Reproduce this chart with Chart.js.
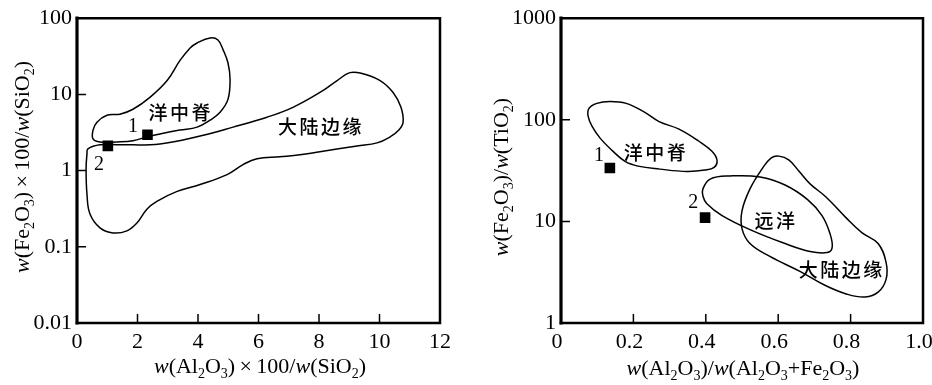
<!DOCTYPE html>
<html><head><meta charset="utf-8">
<script src="https://cdn.jsdelivr.net/npm/chart.js@4.4.0/dist/chart.umd.min.js"></script>
<style>
html,body{margin:0;padding:0;background:#fff;overflow:hidden;width:932px;height:385px;}
#w1{position:absolute;left:0;top:0;width:466px;height:385px;}
#w2{position:absolute;left:466px;top:0;width:480px;height:385px;}
canvas{display:block;}
</style></head><body>
<div id="w1"><canvas id="c1" width="466" height="385"></canvas></div>
<div id="w2"><canvas id="c2" width="480" height="385"></canvas></div>
<script>
// ---------- Left chart data ----------
const leftXTicks = [0, 2, 4, 6, 8, 10, 12];
const leftXTickLabels = ['0', '2', '4', '6', '8', '10', '12'];
const leftYTicks = [0.01, 0.1, 1, 10, 100];
const leftYTickLabels = ['0.01', '0.1', '1', '10', '100'];
const leftRidge = [[3.97,47.3],[4.40,55],[4.66,51.7],[4.83,38.4],[4.99,26],[5.06,15.7],[4.99,8.6],[4.73,5.83],[4.40,4.59],[3.97,3.72],[3.40,3.40],[2.74,3.02],[2.31,2.77],[1.85,2.46],[1.32,2.38],[0.76,2.38],[0.53,2.61],[0.53,3.40],[0.66,4.32],[0.99,5.33],[1.42,5.50],[1.85,6.38],[2.41,9.14],[2.98,15.2],[3.40,27.7],[3.74,40.7]];
const leftMargin = [[0.36,1.93],[0.76,2.18],[1.42,2.18],[2.74,2.24],[4.07,2.85],[5.16,3.72],[6.28,5.02],[7.14,6.77],[8.03,10.6],[8.60,15.2],[9.02,19.3],[9.42,18.8],[10.02,15.2],[10.45,10.6],[10.71,6.77],[10.78,4.32],[10.64,3.40],[10.35,2.77],[9.92,2.31],[9.26,2.11],[8.03,1.77],[7.37,1.61],[6.71,1.52],[5.95,1.43],[5.49,1.20],[4.96,0.887],[4.07,0.658],[3.31,0.533],[2.64,0.395],[2.31,0.312],[1.98,0.205],[1.65,0.162],[1.19,0.152],[0.76,0.177],[0.43,0.269],[0.33,0.488],[0.30,1.06],[0.33,1.66]];
const leftSamples = [[2.33,2.95],[1.02,2.11]];
const leftSampleNames = ['1', '2'];
const leftRegionNames = ['洋中脊', '大陆边缘'];

// ---------- Right chart data ----------
const rightXTicks = [0, 0.2, 0.4, 0.6, 0.8, 1.0];
const rightXTickLabels = ['0', '0.2', '0.4', '0.6', '0.8', '1.0'];
const rightYTicks = [1, 10, 100, 1000];
const rightYTickLabels = ['1', '10', '100', '1000'];
const rightRidge = [[0.075,108],[0.077,129],[0.099,145],[0.135,151],[0.180,145],[0.227,121],[0.271,96],[0.326,81],[0.381,61.5],[0.417,49],[0.431,40],[0.423,34],[0.398,32],[0.348,31],[0.273,32.7],[0.213,35],[0.177,39],[0.141,50],[0.108,66],[0.086,86]];
const rightPelagic = [[0.392,20.9],[0.412,26.1],[0.467,28],[0.550,27.4],[0.619,22.8],[0.682,16.3],[0.721,11.4],[0.743,7.6],[0.749,5.53],[0.735,4.94],[0.688,5.06],[0.619,6.05],[0.522,8.3],[0.445,11.4],[0.403,14.9],[0.392,17.8]];
const rightMargin = [[0.602,43.9],[0.630,40.1],[0.657,31.3],[0.688,23.4],[0.732,17.4],[0.787,10.9],[0.831,7.76],[0.876,6.05],[0.898,3.95],[0.898,2.69],[0.876,2.01],[0.840,1.80],[0.790,1.92],[0.729,2.35],[0.660,3.22],[0.577,4.52],[0.522,6.05],[0.500,8.48],[0.500,12.7],[0.522,20.9],[0.555,32.7],[0.580,42]];
const rightSamples = [[0.135,33.5],[0.398,10.9]];
const rightSampleNames = ['1', '2'];
const rightRegionNames = ['洋中脊', '远洋', '大陆边缘'];

// ---------- helpers ----------
const SERIF = '"Liberation Serif", "Times New Roman", serif';
const CJK = '"Noto Sans CJK SC", sans-serif';
const toPts = arr => arr.map(p => ({x: p[0], y: p[1]}));

function parseRich(s) {
  const parts = []; let italic = false, sub = false, buf = '';
  const push = () => { if (buf) { parts.push({t: buf, italic, sub}); buf = ''; } };
  for (const ch of s) {
    if (ch === '_') { push(); italic = !italic; }
    else if (ch === '~') { push(); sub = !sub; }
    else if (ch === '×') { push(); parts.push({t: '×', italic: false, sub: false, pad: 0.2}); }
    else buf += ch;
  }
  push();
  return parts;
}
function drawRich(ctx, s, cx, cy, rot, size) {
  const parts = parseRich(s);
  ctx.save();
  ctx.translate(cx, cy); ctx.rotate(rot);
  const fontFor = p => (p.italic ? 'italic ' : '') + (p.sub ? Math.round(size * 0.62) : size) + 'px ' + SERIF;
  const widths = []; let total = 0;
  for (const p of parts) {
    ctx.font = fontFor(p);
    const w = ctx.measureText(p.t).width + (p.pad ? 2 * p.pad * size : 0);
    widths.push(w); total += w;
  }
  let x = -total / 2; const base = size * 0.33;
  ctx.fillStyle = '#000'; ctx.textAlign = 'left'; ctx.textBaseline = 'alphabetic';
  parts.forEach((p, i) => {
    ctx.font = fontFor(p);
    ctx.fillText(p.t, x + (p.pad ? p.pad * size : 0), base + (p.sub ? size * 0.22 : 0));
    x += widths[i];
  });
  ctx.restore();
}

const loopPlugin = {
  id: 'loop',
  afterDatasetsUpdate(chart) {
    chart.data.datasets.forEach((ds, i) => {
      if (ds.closed) {
        const meta = chart.getDatasetMeta(i);
        if (meta.dataset) { meta.dataset._loop = true; meta.dataset._fullLoop = true; meta.dataset._pointsUpdated = false; }
      }
    });
  }
};

const decorPlugin = {
  id: 'decor',
  afterDraw(chart) {
    const c = chart.options.plugins.decor;
    const ctx = chart.ctx;
    const {left, right, top, bottom} = chart.chartArea;
    const xs = chart.scales.x, ys = chart.scales.y;
    ctx.save();
    ctx.strokeStyle = '#000';
    // inward ticks
    ctx.lineWidth = 1.5;
    ctx.beginPath();
    c.xInner.forEach(v => { const px = xs.getPixelForValue(v); ctx.moveTo(px, bottom); ctx.lineTo(px, bottom - 9); });
    c.yInner.forEach(v => { const py = ys.getPixelForValue(v); ctx.moveTo(left, py); ctx.lineTo(left + 9, py); });
    ctx.stroke();
    // frame
    ctx.lineCap = 'square';
    ctx.lineWidth = 2.5;
    ctx.beginPath();
    ctx.moveTo(left, top); ctx.lineTo(right, top); ctx.lineTo(right, bottom); ctx.lineTo(left, bottom);
    ctx.stroke();
    ctx.lineWidth = 3.2;
    ctx.beginPath(); ctx.moveTo(left, top); ctx.lineTo(left, bottom); ctx.stroke();
    // region labels
    ctx.fillStyle = '#000';
    ctx.textAlign = 'center'; ctx.textBaseline = 'middle';
    ctx.font = '500 19px ' + CJK;
    try { ctx.letterSpacing = '2.5px'; } catch (e) {}
    c.regions.forEach(r => {
      ctx.fillText(r.text, xs.getPixelForValue(r.x) + 1, ys.getPixelForValue(r.y));
    });
    try { ctx.letterSpacing = '0px'; } catch (e) {}
    ctx.font = '20px ' + SERIF;
    c.samples.forEach(r => {
      ctx.fillText(r.text, xs.getPixelForValue(r.x), ys.getPixelForValue(r.y));
    });
    ctx.restore();
    // axis titles
    drawRich(ctx, c.xTitle, c.xTitlePos[0], c.xTitlePos[1], 0, 22);
    drawRich(ctx, c.yTitle, c.yTitlePos[0], c.yTitlePos[1], -Math.PI / 2, 22);
  }
};

function curve(pts) {
  return {data: toPts(pts), closed: true, borderColor: '#000', borderWidth: 1.5, pointRadius: 0, tension: 0.4, fill: false, showLine: true};
}
function markers(pts) {
  return {data: toPts(pts), showLine: false, pointStyle: 'rect', pointRadius: 7.5, backgroundColor: '#000', borderWidth: 0};
}

function makeChart(id, o) {
  const tickFont = {family: SERIF, size: 22};
  return new Chart(document.getElementById(id), {
    type: 'line',
    data: {datasets: o.datasets},
    options: {
      responsive: false, animation: false, devicePixelRatio: 1, events: [],
      layout: {padding: {left: 0, top: o.top, right: o.right, bottom: 0}},
      plugins: {legend: {display: false}, tooltip: {enabled: false}, decor: o.decor},
      scales: {
        x: {
          type: 'linear', min: o.xMin, max: o.xMax,
          afterBuildTicks: s => { s.ticks = o.xTicks.map(v => ({value: v})); },
          afterFit: s => { s.height = 62; },
          ticks: {callback: (v, i) => o.xLabels[i], font: tickFont, color: '#000', padding: 6, maxRotation: 0, autoSkip: false, labelOffset: o.xLabelOffset},
          grid: {display: false, drawTicks: false}, border: {display: false}
        },
        y: {
          type: 'logarithmic', min: o.yMin, max: o.yMax,
          afterBuildTicks: s => { s.ticks = o.yTicks.map(v => ({value: v})); },
          afterFit: s => { s.width = o.yWidth; },
          ticks: {callback: (v, i) => o.yLabels[i], font: tickFont, color: '#000', padding: 5, autoSkip: false},
          grid: {display: false, drawTicks: false}, border: {display: false}
        }
      }
    },
    plugins: [loopPlugin, decorPlugin]
  });
}

makeChart('c1', {
  datasets: [curve(leftRidge), curve(leftMargin), markers(leftSamples)],
  top: 15, right: 26, yWidth: 77, xLabelOffset: 0,
  xMin: 0, xMax: 12, yMin: 0.01, yMax: 100,
  xTicks: leftXTicks, xLabels: leftXTickLabels, yTicks: leftYTicks, yLabels: leftYTickLabels,
  decor: {
    xInner: leftXTicks.slice(1, -1), yInner: leftYTicks.slice(1, -1),
    regions: [{text: leftRegionNames[0], x: 3.40, y: 5.66}, {text: leftRegionNames[1], x: 8.03, y: 3.72}],
    samples: [{text: leftSampleNames[0], x: 1.85, y: 3.72}, {text: leftSampleNames[1], x: 0.73, y: 1.20}],
    xTitle: '_w_(Al~2~O~3~)×100/_w_(SiO~2~)', xTitlePos: [260, 366],
    yTitle: '_w_(Fe~2~O~3~)×100/_w_(SiO~2~)', yTitlePos: [22, 167]
  }
});

makeChart('c2', {
  datasets: [curve(rightRidge), curve(rightPelagic), curve(rightMargin), markers(rightSamples)],
  top: 16, right: 23, yWidth: 95, xLabelOffset: -4,
  xMin: 0, xMax: 1, yMin: 1, yMax: 1000,
  xTicks: rightXTicks, xLabels: rightXTickLabels, yTicks: rightYTicks, yLabels: rightYTickLabels,
  decor: {
    xInner: rightXTicks.slice(1, -1), yInner: rightYTicks.slice(1, -1),
    regions: [{text: rightRegionNames[0], x: 0.260, y: 47}, {text: rightRegionNames[1], x: 0.591, y: 10.2}, {text: rightRegionNames[2], x: 0.773, y: 3.37}],
    samples: [{text: rightSampleNames[0], x: 0.105, y: 43.9}, {text: rightSampleNames[1], x: 0.365, y: 15.2}],
    xTitle: '_w_(Al~2~O~3~)/_w_(Al~2~O~3~+Fe~2~O~3~)', xTitlePos: [277, 368],
    yTitle: '_w_(Fe~2~O~3~)/_w_(TiO~2~)', yTitlePos: [35, 177]
  }
});
</script>
</body></html>
